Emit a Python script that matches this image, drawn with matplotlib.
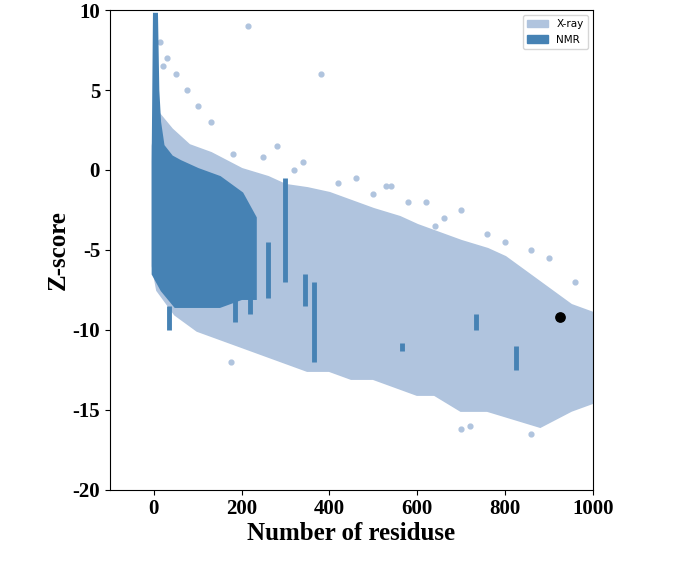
import matplotlib.pyplot as plt
from matplotlib.patches import Patch

plt.rcParams['font.family'] = 'Liberation Serif'
plt.rcParams['axes.unicode_minus'] = False

XRAY = '#b0c4de'
NMR = '#4682b4'

# X-ray cloud outline (residues, z-score)
xray_top_x = [0, 10, 40, 80, 130, 200, 260, 300, 350, 400, 450, 500, 560, 600, 650, 700, 760, 800, 850, 900, 950, 1000]
xray_top_z = [1.5, 3.5, 2.5, 1.5, 1.0, 0.0, -0.5, -1.0, -1.2, -1.5, -2.0, -2.5, -3.0, -3.5, -4.0, -4.5, -5.0, -5.5, -6.5, -7.5, -8.5, -9.0]
xray_bot_x = [1000, 950, 880, 820, 760, 700, 640, 600, 550, 500, 450, 400, 350, 300, 250, 200, 150, 100, 50, 10, 0]
xray_bot_z = [-14.5, -15.0, -16.0, -15.5, -15.0, -15.0, -14.0, -14.0, -13.5, -13.0, -13.0, -12.5, -12.5, -12.0, -11.5, -11.0, -10.5, -10.0, -9.0, -7.5, -6.0]

# scattered X-ray outliers
xray_out_x = [15, 20, 30, 50, 75, 100, 130, 180, 215, 250, 280, 320, 380, 420, 460, 500, 540, 580, 620, 660, 700, 760, 800, 860, 900, 960, 990, 700, 720, 860, 175, 340, 530, 640]
xray_out_z = [8.0, 6.5, 7.0, 6.0, 5.0, 4.0, 3.0, 1.0, 9.0, 0.8, 1.5, 0.0, 6.0, -0.8, -0.5, -1.5, -1.0, -2.0, -2.0, -3.0, -2.5, -4.0, -4.5, -5.0, -5.5, -7.0, -9.5, -16.2, -16.0, -16.5, -12.0, 0.5, -1.0, -3.5]

# NMR cloud outline
nmr_top_x = [0, 3, 5, 8, 12, 20, 40, 60, 100, 150, 200, 230]
nmr_top_z = [0.5, 9.7, 9.7, 5.0, 3.0, 1.5, 0.8, 0.5, 0.0, -0.5, -1.5, -3.0]
nmr_bot_x = [230, 200, 150, 100, 50, 20, 0]
nmr_bot_z = [-8.0, -8.0, -8.5, -8.5, -8.5, -7.5, -6.5]

# NMR vertical streaks: x, z_top, z_bottom
streak_x = [35, 185, 220, 260, 300, 345, 365, 565, 735, 825]
streak_top = [-8.5, -7.0, -6.5, -4.5, -0.5, -6.5, -7.0, -10.8, -9.0, -11.0]
streak_bot = [-10.0, -9.5, -9.0, -8.0, -7.0, -8.5, -12.0, -11.3, -10.0, -12.5]

# highlighted model
model_x = [925]
model_z = [-9.2]

fig = plt.figure(figsize=(6.95, 5.61), dpi=100)
ax = fig.add_axes([0.158, 0.127, 0.695, 0.855])

ax.fill(xray_top_x + xray_bot_x, xray_top_z + xray_bot_z, color=XRAY, lw=3)
ax.scatter(xray_out_x, xray_out_z, s=12, color=XRAY)
ax.fill(nmr_top_x + nmr_bot_x, nmr_top_z + nmr_bot_z, color=NMR, lw=3)
ax.vlines(streak_x, streak_bot, streak_top, color=NMR, lw=3.5)
ax.scatter(model_x, model_z, s=45, color='black', zorder=5)

ax.set_xlim(-100, 1000)
ax.set_ylim(-20, 10)
ax.set_xticks([0, 200, 400, 600, 800, 1000])
ax.set_yticks([-20, -15, -10, -5, 0, 5, 10])
for lab in ax.get_xticklabels() + ax.get_yticklabels():
    lab.set_fontsize(15)
    lab.set_fontweight('bold')
ax.set_xlabel('Number of residuse', fontsize=18, fontweight='bold', labelpad=2)
ax.set_ylabel('Z-score', fontsize=18, fontweight='bold', labelpad=2)

handles = [Patch(color=XRAY, label='X-ray'), Patch(color=NMR, label='NMR')]
leg = ax.legend(handles=handles, loc='upper right', prop={'family': 'DejaVu Sans', 'size': 7.5})

fig.savefig('out.png')
